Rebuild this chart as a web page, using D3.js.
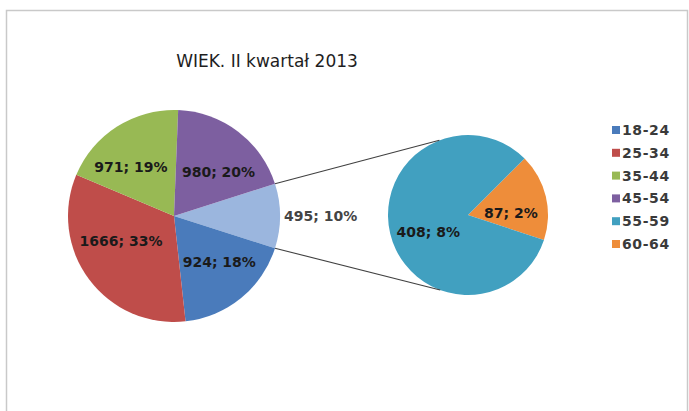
<!DOCTYPE html>
<html>
<head>
<meta charset="utf-8">
<script src="https://cdn.jsdelivr.net/npm/d3@7"></script>
<style>
  html, body { margin: 0; padding: 0; background: #ffffff; }
  svg { display: block; }
</style>
</head>
<body>
<svg id="chart" width="689" height="411"></svg>
<script>
// ---- data ----
const titleText = "WIEK. II kwartał 2013";
const categories = ["18-24", "25-34", "35-44", "45-54", "55-59", "60-64"];
const values = [924, 1666, 971, 980, 408, 87];
const percentLabels = ["18%", "33%", "19%", "20%", "8%", "2%"];
const otherPercentLabel = "10%";
const mainCount = 4; // first four categories in the main pie, rest in the secondary pie

// ---- styles ----
const colors = ["#4a7bbb", "#bf4d4a", "#98b954", "#7d5fa0", "#41a0c0", "#ee8d3a"];
const otherColor = "#9bb6de";
const labelFont = "DejaVu Sans, Verdana, sans-serif";
// small label nudges (px), mimicking the spreadsheet's "best fit" label placement
const labelNudge = [[5, -3], [-2, -13], [-9, 5], [6, 7], [3, 7], [0, 8]];

const svg = d3.select("#chart");

// chart area border
svg.append("rect")
  .attr("x", 6.5).attr("y", 10.5)
  .attr("width", 681).attr("height", 420)
  .attr("fill", "#fff")
  .attr("stroke", "#c9c9c9")
  .attr("stroke-width", 1.5);

// title
svg.append("text")
  .attr("x", 267).attr("y", 67)
  .attr("text-anchor", "middle")
  .attr("font-family", labelFont)
  .attr("font-size", 17)
  .attr("fill", "#1e1e1e")
  .text(titleText);

const mainValues = values.slice(0, mainCount);
const subValues = values.slice(mainCount);
const otherValue = d3.sum(subValues);
const total = d3.sum(mainValues) + otherValue;

// ---- main pie ----
const c1 = { x: 174, y: 216, r: 106 };
const mainData = [{ key: "other", idx: -1, value: otherValue, label: otherValue + "; " + otherPercentLabel, color: otherColor }]
  .concat(mainValues.map((v, i) => ({ key: categories[i], idx: i, value: v, label: v + "; " + percentLabels[i], color: colors[i] })));

const otherSpan = 2 * Math.PI * otherValue / total;
const a0 = Math.PI / 2 - otherSpan / 2;
const pie1 = d3.pie().sort(null).value(d => d.value).startAngle(a0).endAngle(a0 + 2 * Math.PI);
const arcs1 = pie1(mainData);
const arc1 = d3.arc().innerRadius(0).outerRadius(c1.r);
const labelArc1 = d3.arc().innerRadius(c1.r * 0.6).outerRadius(c1.r * 0.6);

const g1 = svg.append("g").attr("transform", `translate(${c1.x},${c1.y})`);
g1.selectAll("path").data(arcs1).join("path")
  .attr("d", arc1)
  .attr("fill", d => d.data.color);

// ---- secondary pie ----
const c2 = { x: 468, y: 215, r: 80 };
const subStart = 45 * Math.PI / 180;
const subData = subValues.map((v, i) => ({ key: categories[mainCount + i], idx: mainCount + i, value: v, label: v + "; " + percentLabels[mainCount + i], color: colors[mainCount + i] })).reverse();
const pie2 = d3.pie().sort(null).value(d => d.value).startAngle(subStart).endAngle(subStart + 2 * Math.PI);
const arcs2 = pie2(subData);
const arc2 = d3.arc().innerRadius(0).outerRadius(c2.r);
const labelArc2 = d3.arc().innerRadius(c2.r * 0.55).outerRadius(c2.r * 0.55);

const g2 = svg.append("g").attr("transform", `translate(${c2.x},${c2.y})`);
g2.selectAll("path").data(arcs2).join("path")
  .attr("d", arc2)
  .attr("fill", d => d.data.color);

// ---- connector lines (from the "other" slice edge to the secondary pie rim) ----
const otherArc = arcs1[0];
function edgePoint(angle) {
  return [c1.x + c1.r * Math.sin(angle), c1.y - c1.r * Math.cos(angle)];
}
// point on the secondary pie rim, slightly before the exact tangent point
function rimPoint(p, upper) {
  const dx = c2.x - p[0], dy = c2.y - p[1];
  const dist = Math.hypot(dx, dy);
  const dir = Math.atan2(dy, dx);
  const alpha = Math.asin(c2.r / dist);
  const extra = 6 * Math.PI / 180;
  const t = upper ? dir + Math.PI + (Math.PI / 2 - alpha) - extra
                  : dir + Math.PI - (Math.PI / 2 - alpha) + extra;
  return [c2.x + c2.r * Math.cos(t), c2.y + c2.r * Math.sin(t)];
}
const pUp = edgePoint(otherArc.startAngle);
const pDown = edgePoint(otherArc.endAngle);
[[pUp, rimPoint(pUp, true)], [pDown, rimPoint(pDown, false)]].forEach(seg => {
  svg.append("line")
    .attr("x1", seg[0][0]).attr("y1", seg[0][1])
    .attr("x2", seg[1][0]).attr("y2", seg[1][1])
    .attr("stroke", "#404040")
    .attr("stroke-width", 1.1);
});

// ---- labels ----
function placeLabel(labelArc) {
  return d => {
    const c = labelArc.centroid(d);
    const n = labelNudge[d.data.idx] || [0, 0];
    return `translate(${c[0] + n[0]},${c[1] + n[1]})`;
  };
}
g1.selectAll("text.lbl").data(arcs1.slice(1)).join("text")
  .attr("class", "lbl")
  .attr("transform", placeLabel(labelArc1))
  .attr("text-anchor", "middle")
  .attr("dominant-baseline", "central")
  .attr("font-family", labelFont)
  .attr("font-weight", "bold")
  .attr("font-size", 14)
  .attr("fill", "#1a1a1a")
  .text(d => d.data.label);

// "other" label outside the main pie
const midOther = (otherArc.startAngle + otherArc.endAngle) / 2;
svg.append("text")
  .attr("x", c1.x + (c1.r + 4) * Math.sin(midOther))
  .attr("y", c1.y - (c1.r + 4) * Math.cos(midOther))
  .attr("text-anchor", "start")
  .attr("dominant-baseline", "central")
  .attr("font-family", labelFont)
  .attr("font-weight", "bold")
  .attr("font-size", 14)
  .attr("fill", "#444")
  .text(otherArc.data.label);

g2.selectAll("text.lbl").data(arcs2).join("text")
  .attr("class", "lbl")
  .attr("transform", placeLabel(labelArc2))
  .attr("text-anchor", "middle")
  .attr("dominant-baseline", "central")
  .attr("font-family", labelFont)
  .attr("font-weight", "bold")
  .attr("font-size", 14)
  .attr("fill", "#1a1a1a")
  .text(d => d.data.label);

// ---- legend ----
const legendY = d3.scalePoint().domain(categories).range([130, 244]);
const lg = svg.append("g");
const items = lg.selectAll("g").data(categories).join("g")
  .attr("transform", d => `translate(612,${legendY(d)})`);
items.append("rect")
  .attr("x", 0).attr("y", -4)
  .attr("width", 8).attr("height", 8)
  .attr("fill", (d, i) => colors[i]);
items.append("text")
  .attr("x", 10).attr("y", 0)
  .attr("dominant-baseline", "central")
  .attr("font-family", labelFont)
  .attr("font-weight", "bold")
  .attr("font-size", 14)
  .attr("letter-spacing", 0.6)
  .attr("fill", "#3a3a3a")
  .text(d => d);
</script>
</body>
</html>
